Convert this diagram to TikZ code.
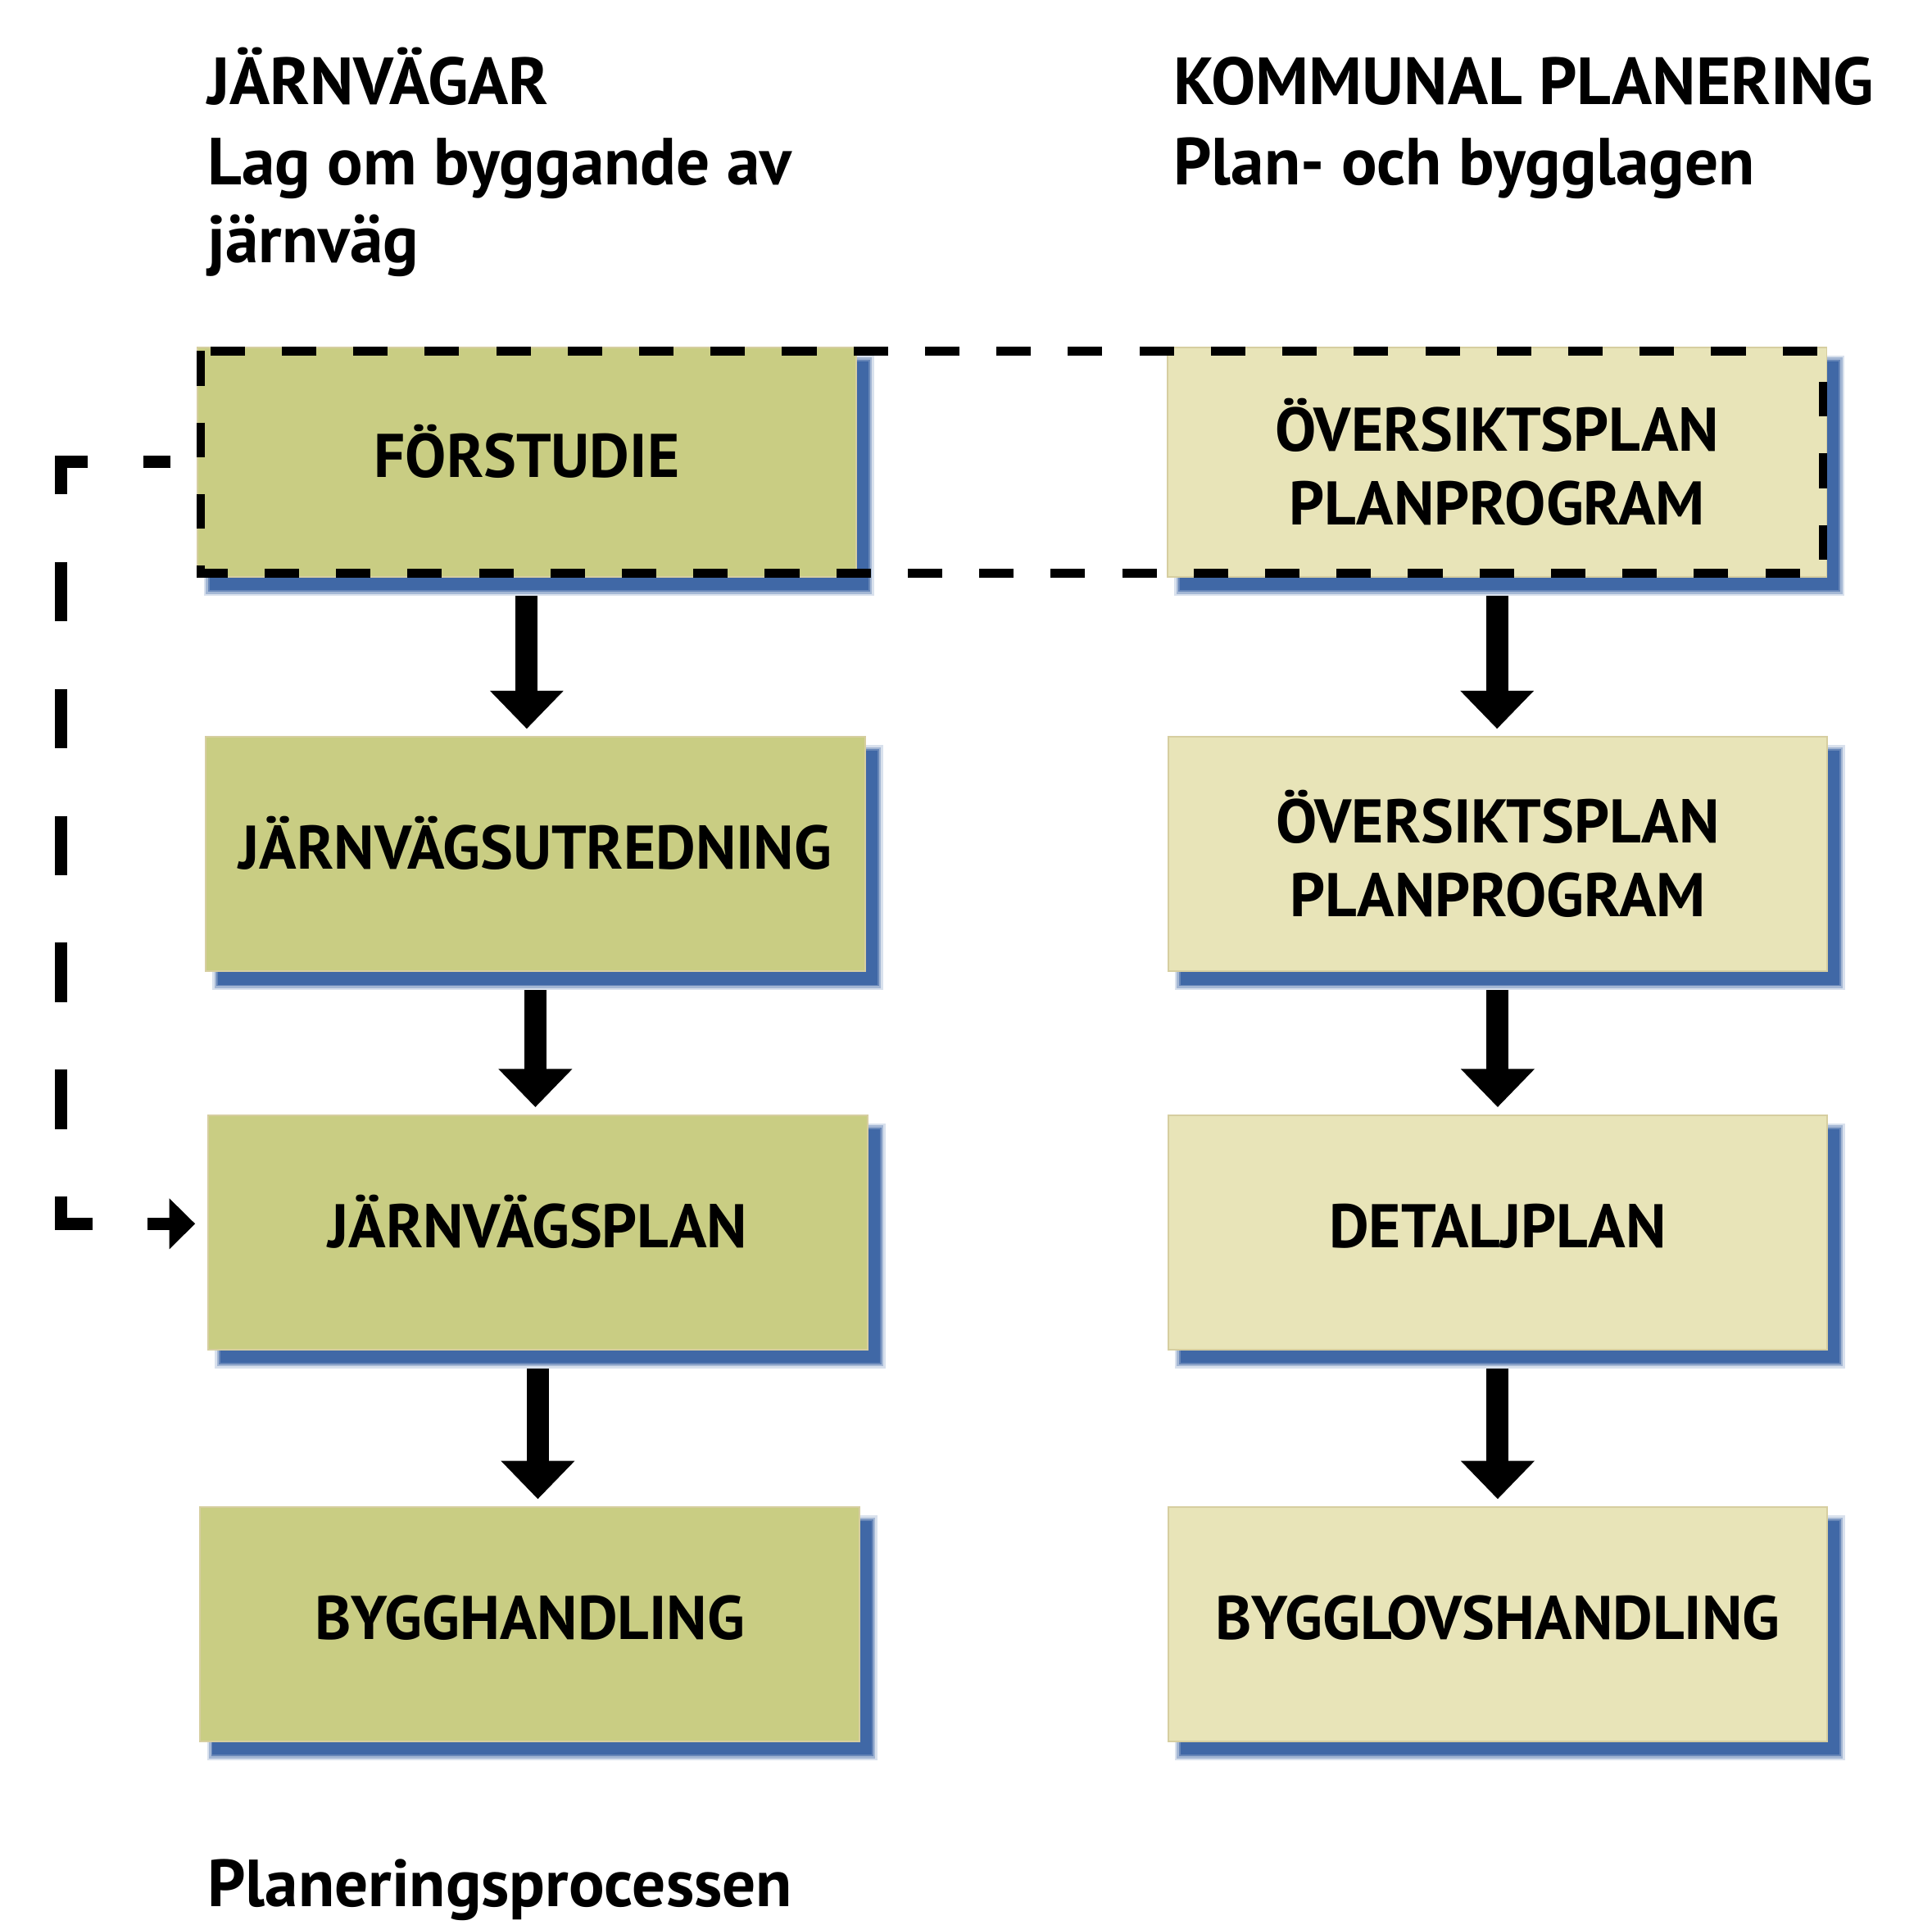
\documentclass[tikz,border=0pt]{standalone}
\usepackage{fontspec}
\setmainfont{PT Sans}
\usetikzlibrary{arrows.meta,shadows}

\definecolor{railgreen}{RGB}{201,205,131}
\definecolor{townbeige}{RGB}{232,228,184}
\definecolor{edgetan}{RGB}{214,206,160}
\definecolor{shadeblue}{RGB}{64,104,166}

\tikzset{every picture/.style={line width=0.55pt}}
\tikzset{
  softshadow/.style={
    general shadow={shadow xshift=5pt, shadow yshift=-5.5pt, draw=shadeblue, line width=4.5pt, draw opacity=0.2},
    general shadow={shadow xshift=5pt, shadow yshift=-5.5pt, draw=shadeblue, line width=2.8pt, draw opacity=0.35},
    general shadow={shadow xshift=5pt, shadow yshift=-5.5pt, draw=shadeblue, line width=1.2pt, draw opacity=0.6},
    general shadow={shadow xshift=5pt, shadow yshift=-5.5pt, fill=shadeblue}},
  stagebox/.style={draw=edgetan, line width=0.6pt, minimum width=267.5pt, minimum height=95pt,
    inner sep=0pt, align=center, font=\fontsize{25}{30}\selectfont\bfseries, softshadow},
  oneline/.style={text height=12.5pt, text depth=0pt},
  railbox/.style={stagebox, fill=railgreen},
  townbox/.style={stagebox, fill=townbeige},
  headtext/.style={anchor=base west, inner sep=0pt, font=\fontsize{27}{32}\selectfont\bfseries},
  flowarrow/.style={line width=9pt, -{Triangle[width=29pt,length=15.5pt]}, shorten <=7.5pt, shorten >=3pt},
  dashframe/.style={line width=3.5pt, dash pattern=on 14pt off 15pt},
  feedback/.style={line width=5pt,
    dash pattern=on 11pt off 22.5pt on 24pt off 27.5pt on 24pt off 27.5pt on 24pt off 27.5pt
      on 24pt off 27.5pt on 24pt off 27.5pt on 24pt off 27.5pt on 24pt off 22pt,
    -{Triangle[width=20pt,length=10.5pt]}, shorten <=10.5pt, shorten >=5pt}
}

\begin{document}
\begin{tikzpicture}[x=0.5pt,y=0.5pt,yscale=-1,xscale=1]
  \useasboundingbox (0,0) rectangle (1568,1562);

  % headings
  \node[headtext] (railhead) at (168,85) {JÄRNVÄGAR};
  \node[headtext] (raillaw) at (168,150) {Lag om byggande av};
  \node[headtext] (raillawb) at (168,213) {järnväg};
  \node[headtext] (townhead) at (952,85) {KOMMUNAL PLANERING};
  \node[headtext] (townlaw) at (952,150) {Plan- och bygglagen};

  % railway column
  \node[railbox, oneline, minimum height=93pt] (fors) at (427.5,375) {FÖRSTUDIE};
  \node[railbox, oneline] (utred) at (434.5,693) {JÄRNVÄGSUTREDNING};
  \node[railbox, oneline] (jplan) at (436.5,1000) {JÄRNVÄGSPLAN};
  \node[railbox, oneline] (bygg) at (430,1318) {BYGGHANDLING};

  % municipal column
  \node[townbox, minimum height=93pt] (oversikt) at (1215,375) {ÖVERSIKTSPLAN\\PLANPROGRAM};
  \node[townbox] (oversiktb) at (1215.5,693) {ÖVERSIKTSPLAN\\PLANPROGRAM};
  \node[townbox, oneline] (detalj) at (1215.5,1000) {DETALJPLAN};
  \node[townbox, oneline] (bygglov) at (1215.5,1318) {BYGGLOVSHANDLING};

  % dashed frame round the first step
  \draw[dashframe] ([shift={(3.5,3.5)}]fors.north west) rectangle ([shift={(-3.5,-3.5)}]oversikt.south east);

  % arrows
  \draw[flowarrow] (fors.south) -- (fors.south |- utred.north);
  \draw[flowarrow] (utred.south) -- (utred.south |- jplan.north);
  \draw[flowarrow] (jplan.south) -- (jplan.south |- bygg.north);
  \draw[flowarrow] (oversikt.south) -- (oversikt.south |- oversiktb.north);
  \draw[flowarrow] (oversiktb.south) -- (oversiktb.south |- detalj.north);
  \draw[flowarrow] (detalj.south) -- (detalj.south |- bygglov.north);

  % feedback from förstudie
  \draw[feedback] (fors.west) -- ++(-110,0) |- ([shift={(0,-7)}]jplan.west);

  \node[headtext] (caption) at (168,1547) {Planeringsprocessen};
\end{tikzpicture}
\end{document}
